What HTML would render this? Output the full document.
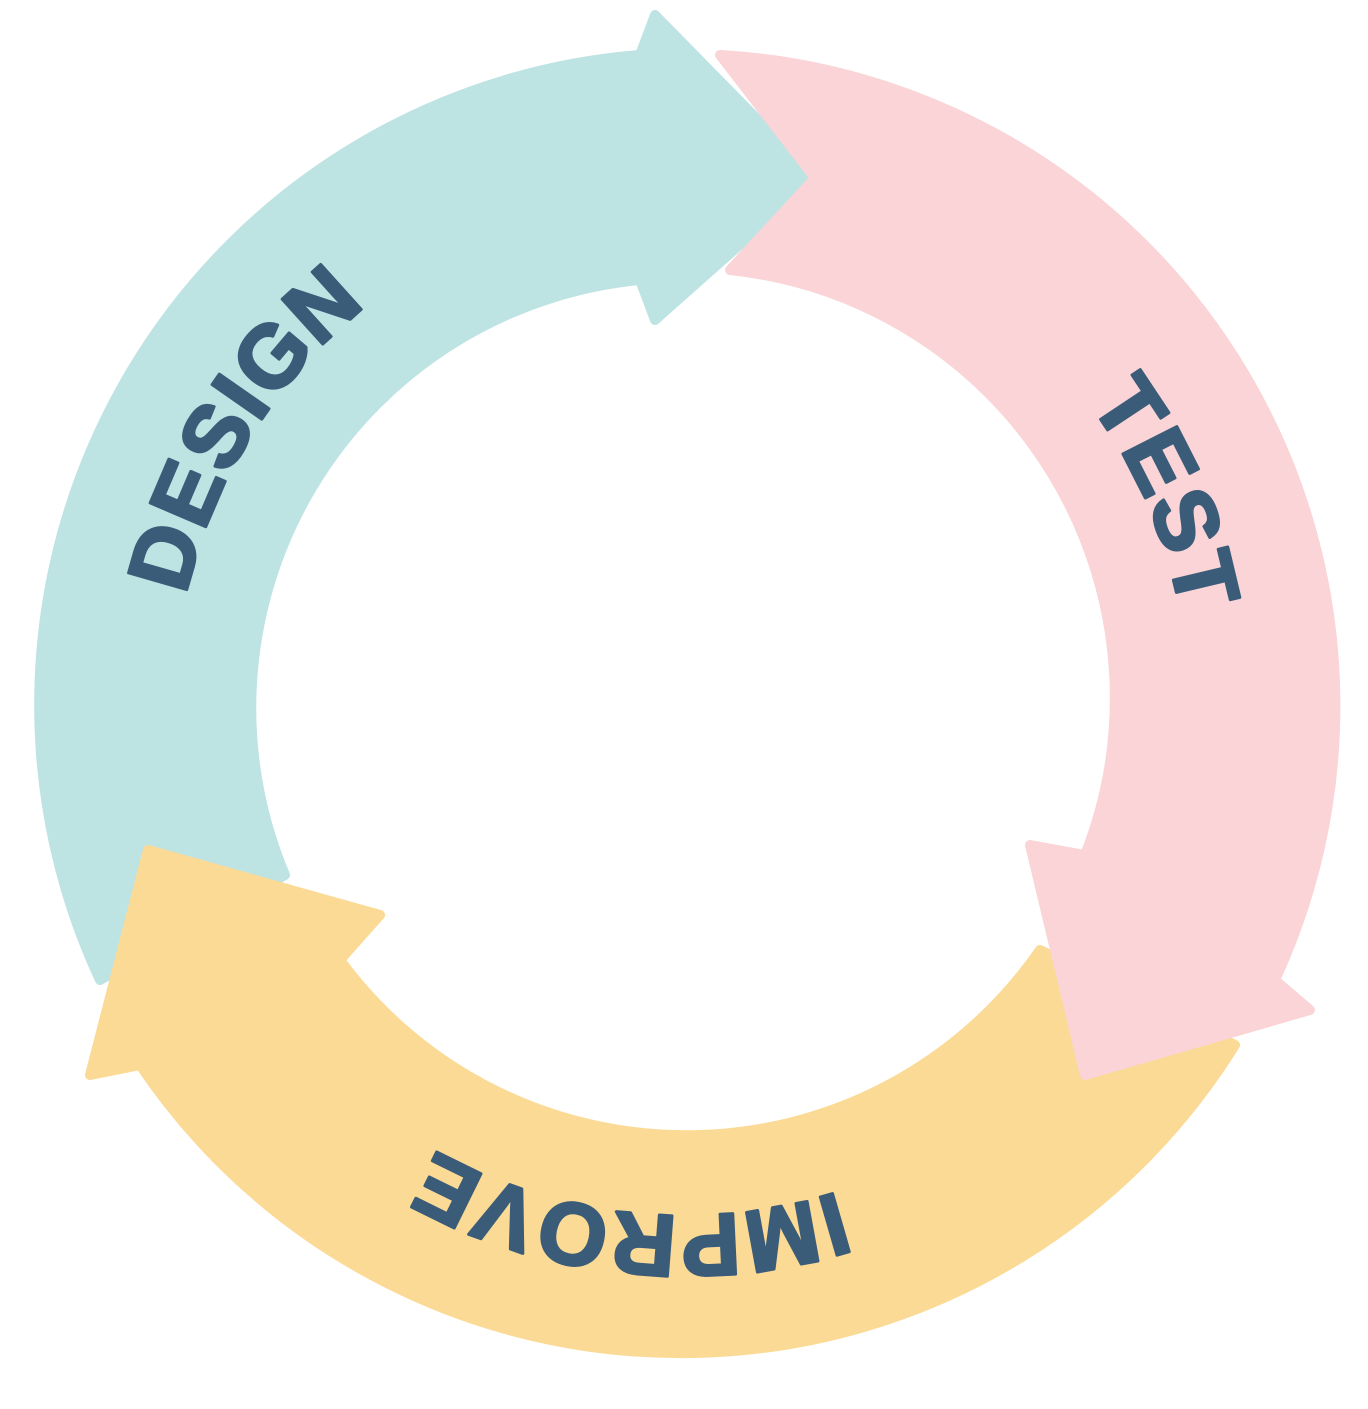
<!DOCTYPE html>
<html><head><meta charset="utf-8"><style>
html,body{margin:0;padding:0;background:#fff;}
svg{display:block;}
text{font-family:"Liberation Sans",sans-serif;font-weight:bold;fill:#3B5C78;stroke:#3B5C78;stroke-width:3;stroke-linejoin:round;}
</style></head><body>
<svg width="1368" height="1409" viewBox="0 0 1368 1409" xmlns="http://www.w3.org/2000/svg">
<g stroke-linejoin="round" stroke-width="10">
<path fill="#BEE3E3" stroke="#BEE3E3" d="M100,980 A652,652 0 0 1 640,55 L655,15 L815,178 L655,320 L640,280 A430,430 0 0 0 285,875 Z"/>
<path fill="#FBDA96" stroke="#FBDA96" d="M1235,1045 A652,652 0 0 1 140,1065 L90,1075 L148,850 L380,915 L340,960 A430,430 0 0 0 1040,950 Z"/>
<path fill="#FAD4D6" stroke="#FAD4D6" d="M720,55 A652,652 0 0 1 1275,980 L1310,1010 L1085,1075 L1030,845 L1085,855 A430,430 0 0 0 730,270 L815,178 Z"/>
</g>
<defs>
<path id="pd" d="M234,944 A510,510 0 0 1 702,195"/>
<path id="pt" d="M741,203 A505,505 0 0 1 1090,1005"/>
<path id="pi" d="M1097,1005 A510,510 0 0 1 218,912"/>
</defs>
<text font-size="88" letter-spacing="2" text-anchor="middle"><textPath href="#pd" startOffset="50%">DESIGN</textPath></text>
<text font-size="88" letter-spacing="2" text-anchor="middle"><textPath href="#pt" startOffset="50%">TEST</textPath></text>
<text font-size="88" letter-spacing="2" text-anchor="middle"><textPath href="#pi" startOffset="50%">IMPROVE</textPath></text>
</svg>
</body></html>
